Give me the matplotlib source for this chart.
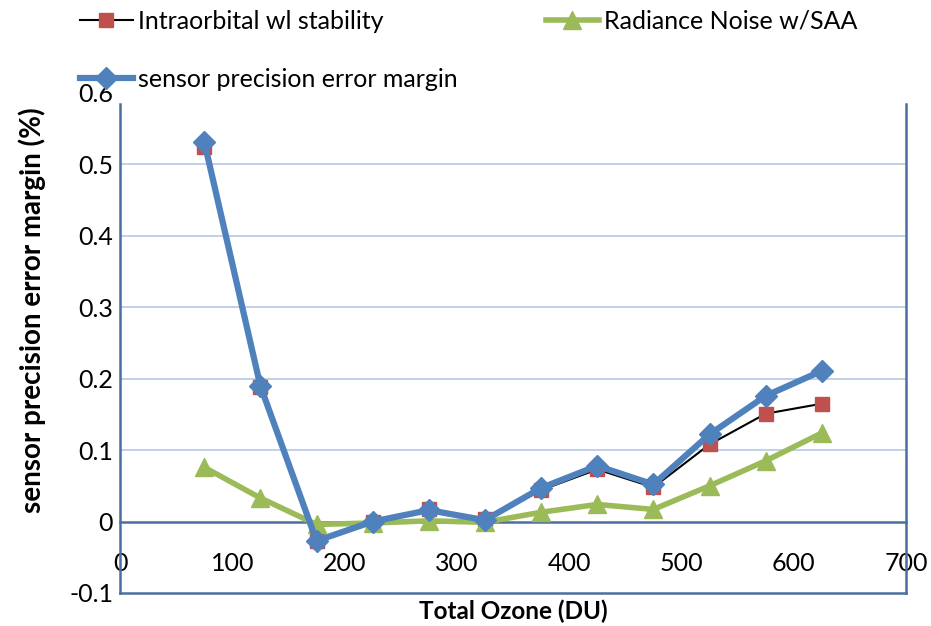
import matplotlib
matplotlib.use('Agg')
import matplotlib.pyplot as plt
from matplotlib.lines import Line2D

plt.rcParams['font.family'] = ['Lato', 'DejaVu Sans']

# total ozone bins (DU) and error margins (%)
ozone = [75, 125, 175, 225, 275, 325, 375, 425, 475, 525, 575, 625]
intra = [0.525, 0.189, -0.027, 0.000, 0.018, 0.003, 0.044, 0.073, 0.048, 0.108, 0.151, 0.165]
noise = [0.076, 0.033, -0.004, -0.002, 0.001, -0.001, 0.013, 0.024, 0.017, 0.050, 0.085, 0.124]
sensor = [0.532, 0.190, -0.027, 0.000, 0.016, 0.002, 0.047, 0.078, 0.052, 0.122, 0.176, 0.211]

xticks = [0, 100, 200, 300, 400, 500, 600, 700]
yticks = [-0.1, 0, 0.1, 0.2, 0.3, 0.4, 0.5, 0.6]
ylabels = ['-0.1', '0', '0.1', '0.2', '0.3', '0.4', '0.5', '0.6']

BLUE = '#4F81BD'
RED = '#C0504D'
GREEN = '#9BBB59'
AXIS = '#4A6FA0'
GRID = '#BCCDE8'
FS = 18

fig = plt.figure(figsize=(9.31, 6.26), dpi=100)
ax = fig.add_axes([120/931, 33/626, 786/931, 500/626])

ax.plot(ozone, intra, color='black', lw=1.5, marker='s', ms=9.5,
        mfc=RED, mec=RED, zorder=3)
ax.plot(ozone, noise, color=GREEN, lw=4, marker='^', ms=13,
        mfc=GREEN, mec=GREEN, zorder=4)
ax.plot(ozone, sensor, color=BLUE, lw=4.5, marker='D', ms=11.5,
        mfc=BLUE, mec=BLUE, zorder=5)

ax.set_xlim(0, 700)
ax.set_ylim(-0.1, 0.6)
ax.set_xticks(xticks)
ax.set_yticks(yticks)
ax.set_yticklabels(ylabels)
ax.tick_params(axis='both', length=0, labelsize=FS, colors='black')
ax.tick_params(axis='x', pad=22)
ax.tick_params(axis='y', pad=5)

for v in [0.1, 0.2, 0.3, 0.4, 0.5]:
    ax.axhline(v, color=GRID, lw=1.3, zorder=1)

# x axis crosses at zero, box closes at the bottom
ax.spines['top'].set_visible(False)
ax.spines['bottom'].set_position(('data', 0))
ax.spines['bottom'].set_color(AXIS)
ax.spines['bottom'].set_linewidth(1.8)
ax.spines['bottom'].set_zorder(2)
for s in ['left', 'right']:
    ax.spines[s].set_bounds(-0.1, 0.585)
    ax.spines[s].set_color(AXIS)
    ax.spines[s].set_linewidth(1.8)
ax.axhline(-0.1, color=AXIS, lw=1.8, clip_on=False)

ax.set_xlabel('Total Ozone (DU)', fontsize=17.5, fontweight='bold', va='center')
ax.xaxis.set_label_coords(0.5, -0.036)
ax.set_ylabel('sensor precision error margin (%)', fontsize=20, fontweight='bold', va='center')
ax.yaxis.set_label_coords(-0.112, 0.565)

h_intra = Line2D([], [], color='black', lw=1.5, marker='s', ms=9.5, mfc=RED, mec=RED)
h_noise = Line2D([], [], color=GREEN, lw=4, marker='^', ms=13, mfc=GREEN, mec=GREEN)
h_sensor = Line2D([], [], color=BLUE, lw=4.5, marker='D', ms=11.5, mfc=BLUE, mec=BLUE)

fig.legend([h_intra, h_sensor], ['Intraorbital wl stability', 'sensor precision error margin'],
           loc='upper left', bbox_to_anchor=(60/931, 1 + 10/626), frameon=False,
           fontsize=FS, handlelength=2.1, handletextpad=0.2, labelspacing=1.4,
           borderpad=0.3)
fig.legend([h_noise], ['Radiance Noise w/SAA'],
           loc='upper left', bbox_to_anchor=(526/931, 1 + 10/626), frameon=False,
           fontsize=FS, handlelength=2.1, handletextpad=0.2, borderpad=0.3)

fig.savefig('out.png', dpi=100)
